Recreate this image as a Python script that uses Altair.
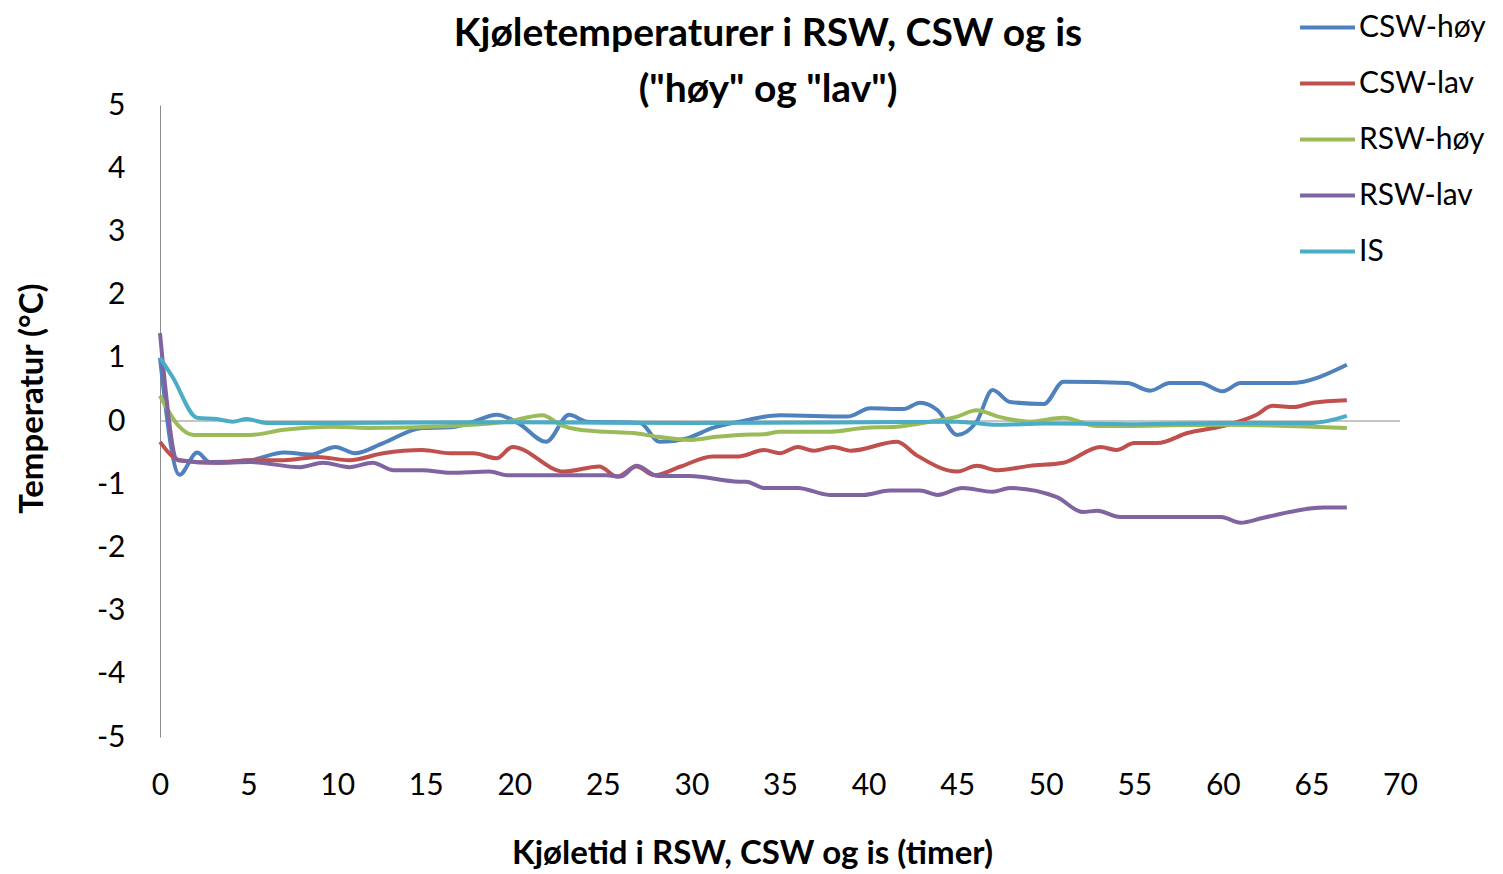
import altair as alt
import pandas as pd

series_names = ["CSW-høy", "CSW-lav", "RSW-høy", "RSW-lav", "IS"]
series_colors = ["#4F81BD", "#C0504D", "#9BBB59", "#8064A2", "#4BACC6"]

csw_hoy_t = [0, 1.1, 2.1, 2.8, 5.1, 7, 8.5, 9.9, 11, 12.6, 14.8, 16.4, 17.7, 19, 20.2, 21.8, 23.1, 24.1,
             27.1, 28.2, 29.8, 31.2, 32.7, 35, 38.8, 40.1, 42, 42.9, 43.9, 45, 46.1, 47, 48, 49.9, 51,
             54.6, 55.9, 57, 58.7, 60, 61, 63.8, 67]
csw_hoy_v = [1.0, -0.85, -0.5, -0.65, -0.62, -0.5, -0.53, -0.41, -0.51, -0.35, -0.11, -0.1, -0.01, 0.1,
             -0.03, -0.33, 0.1, -0.01, -0.03, -0.33, -0.27, -0.11, -0.01, 0.09, 0.07, 0.2, 0.19, 0.29,
             0.17, -0.22, -0.01, 0.49, 0.3, 0.27, 0.62, 0.6, 0.48, 0.6, 0.6, 0.47, 0.6, 0.6, 0.89]

csw_lav_t = [0, 1.1, 3.2, 5.1, 7, 8.9, 10.7, 12.6, 14.8, 16.4, 17.7, 19, 19.9, 22.8, 24.8, 25.8, 26.9,
             27.9, 29.4, 31.2, 32.7, 34.1, 35, 36, 36.9, 38, 39, 41.6, 42.7, 45, 46.1, 47.3, 49.1, 51,
             53.1, 54, 55, 56.3, 58, 60, 61.9, 62.8, 64, 65.1, 67]
csw_lav_v = [-0.33, -0.62, -0.66, -0.62, -0.62, -0.57, -0.62, -0.51, -0.46, -0.51, -0.51, -0.59, -0.41,
             -0.8, -0.72, -0.88, -0.72, -0.86, -0.72, -0.56, -0.56, -0.46, -0.51, -0.41, -0.47, -0.41,
             -0.47, -0.33, -0.54, -0.8, -0.71, -0.78, -0.71, -0.66, -0.41, -0.46, -0.35, -0.35, -0.19,
             -0.08, 0.1, 0.24, 0.22, 0.29, 0.33]

rsw_hoy_t = [0, 1, 1.9, 5.1, 7, 9.8, 11.7, 16.4, 19.6, 21.6, 22.6, 23.7, 25.2, 26.7, 28.1, 29.9, 31.4,
             32.7, 34.1, 35, 37.8, 39.7, 41.6, 43.5, 45, 46.1, 47.3, 49.1, 51, 52.9, 60, 67]
rsw_hoy_v = [0.4, -0.06, -0.22, -0.22, -0.14, -0.09, -0.11, -0.08, -0.01, 0.09, -0.06, -0.14, -0.17,
             -0.19, -0.25, -0.3, -0.25, -0.22, -0.21, -0.17, -0.17, -0.11, -0.09, -0.01, 0.07, 0.17,
             0.07, -0.01, 0.05, -0.08, -0.06, -0.11]

rsw_lav_t = [0, 1, 3.2, 5.1, 7.9, 9.2, 10.7, 12, 13.2, 14.8, 16.4, 18.6, 19.6, 25.2, 26, 26.9, 28.1,
             29.9, 32.7, 33.1, 34.1, 36, 37.8, 39.7, 41.2, 42.9, 43.9, 45.3, 47, 48, 50.6, 52.1, 52.9,
             54.2, 59.9, 61, 62.3, 65.7, 67]
rsw_lav_v = [1.39, -0.62, -0.66, -0.65, -0.73, -0.66, -0.73, -0.66, -0.78, -0.78, -0.82, -0.8, -0.86,
             -0.86, -0.88, -0.71, -0.87, -0.87, -0.96, -0.96, -1.06, -1.06, -1.17, -1.17, -1.1, -1.1,
             -1.17, -1.06, -1.12, -1.06, -1.2, -1.44, -1.42, -1.52, -1.52, -1.61, -1.53, -1.37, -1.37]

is_t = [0, 0.7, 2.1, 3.2, 4.1, 4.9, 6, 10, 20, 30, 40, 45, 47.3, 50, 55, 60, 65.1, 67]
is_v = [1.0, 0.7, 0.05, 0.03, -0.01, 0.03, -0.03, -0.03, -0.02, -0.03, -0.02, -0.01, -0.06, -0.04,
        -0.05, -0.03, -0.03, 0.08]

x_ticks = list(range(0, 71, 5))
y_ticks = list(range(-5, 6))

all_t = [csw_hoy_t, csw_lav_t, rsw_hoy_t, rsw_lav_t, is_t]
all_v = [csw_hoy_v, csw_lav_v, rsw_hoy_v, rsw_lav_v, is_v]
rows = []
for name, ts, vs in zip(series_names, all_t, all_v):
    for i, (t, v) in enumerate(zip(ts, vs)):
        rows.append({"serie": name, "t": t, "v": v, "i": i})
df = pd.DataFrame(rows)

FONT = "Lato"

zero = alt.Chart(pd.DataFrame({"y": [0]})).mark_rule(color="#8c8c8c", strokeWidth=1).encode(
    y=alt.Y("y:Q", scale=alt.Scale(domain=[-5, 5]))
)

lines = alt.Chart(df).mark_line(strokeWidth=4, interpolate="monotone").encode(
    x=alt.X("t:Q", scale=alt.Scale(domain=[0, 70], nice=False),
            axis=alt.Axis(values=x_ticks, title="Kjøletid i RSW, CSW og is (timer)", ticks=False,
                          domain=False, grid=False, labelFontSize=30, labelPadding=33,
                          labelFlush=False, labelColor="#000", titleFontSize=33,
                          titleFontWeight="bold", titleColor="#000", titleX=592, titleY=116,
                          titleBaseline="middle", titleAlign="center")),
    y=alt.Y("v:Q", scale=alt.Scale(domain=[-5, 5], nice=False),
            axis=alt.Axis(values=y_ticks, title="Temperatur (°C)", ticks=False, grid=False,
                          labelExpr="'' + datum.value",
                          domainColor="#8c8c8c", domainWidth=1, labelFontSize=30, labelPadding=35,
                          labelColor="#000", titleFontSize=33, titleFontWeight="bold",
                          titleColor="#000", titleX=-128, titleY=293, titleAngle=270,
                          titleAlign="center", titleBaseline="middle")),
    color=alt.Color("serie:N", scale=alt.Scale(domain=series_names, range=series_colors),
                    legend=alt.Legend(title=None, orient="none", legendX=1138, legendY=-107,
                                      symbolType="stroke", symbolSize=3025, symbolStrokeWidth=4,
                                      labelFontSize=30, labelOffset=2, rowPadding=11, padding=0,
                                      labelColor="#000")),
    order="i:Q",
)

chart = alt.layer(zero, lines).properties(
    width=1240,
    height=632,
    autosize=alt.AutoSizeParams(type="none"),
    padding={"left": 152, "top": 97, "right": 95, "bottom": 137},
    title=alt.Title(["Kjøletemperaturer i RSW, CSW og is", "(\"høy\" og \"lav\")"],
                    fontSize=39, fontWeight="bold", font=FONT, color="#000", lineHeight=56,
                    anchor="middle", offset=6, dx=-12, dy=118),
).configure(font=FONT).configure_view(stroke=None)

chart.save("out.html", embed_options={"renderer": "svg", "actions": False})
